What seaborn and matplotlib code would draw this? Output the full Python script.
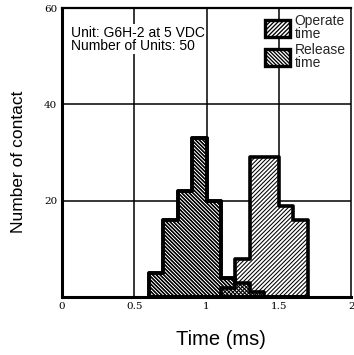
import numpy as np
import pandas as pd
import seaborn as sns
import matplotlib
matplotlib.use("Agg")
import matplotlib.pyplot as plt
from matplotlib.patches import Patch

# ---- data ----
bin_edges = [0.6, 0.7, 0.8, 0.9, 1.0, 1.1, 1.2, 1.3, 1.4, 1.5, 1.6, 1.7]
release_bins = [0.65, 0.75, 0.85, 0.95, 1.05, 1.15, 1.25, 1.35]
release_counts = [5, 16, 22, 33, 20, 4, 3, 1]
operate_bins = [1.15, 1.25, 1.35, 1.45, 1.55, 1.65]
operate_counts = [2, 8, 29, 29, 19, 16]
x_ticks = [0, 0.5, 1, 1.5, 2]
x_ticklabels = ["0", "0.5", "1", "1.5", "2"]
y_ticks = [20, 40, 60]
y_ticklabels = ["20", "40", "60"]
note_text = "Unit: G6H-2 at 5 VDC\nNumber of Units: 50"
legend_labels = ["Operate\ntime", "Release\ntime"]

release_df = pd.DataFrame({"time": release_bins, "count": release_counts})
operate_df = pd.DataFrame({"time": operate_bins, "count": operate_counts})

sns.set_theme(style="white")
plt.rcParams["font.family"] = ["Liberation Sans", "DejaVu Sans"]
plt.rcParams["hatch.color"] = "black"

fig = plt.figure(figsize=(3.54, 3.55), dpi=100)
ax = fig.add_axes([0.175, 0.163, 0.817, 0.814])

REL_HATCH = "\\" * 9
OPE_HATCH = "/" * 8
REL_HLW = 0.95
OPE_HLW = 0.75

def draw(df, hatch, hlw, face, z):
    plt.rcParams["hatch.linewidth"] = hlw
    n_before = len(ax.collections)
    sns.histplot(data=df, x="time", weights="count", bins=bin_edges,
                 element="step", fill=True, ax=ax, color=face, alpha=1,
                 edgecolor="black", linewidth=2.6, legend=False)
    for coll in ax.collections[n_before:]:
        coll.set_hatch(hatch)
        coll.set_facecolor(face)
        coll.set_edgecolor("black")
        coll.set_zorder(z)

draw(release_df, REL_HATCH, REL_HLW, "white", 2)
draw(operate_df, OPE_HATCH, OPE_HLW, "white", 3)
draw(release_df, REL_HATCH, REL_HLW, "none", 4)

ax.set_xlim(0, 2)
ax.set_ylim(0, 60)
ax.set_xticks(x_ticks)
ax.set_xticklabels(x_ticklabels, family="DejaVu Serif", fontsize=7.5)
ax.set_yticks(y_ticks)
ax.set_yticklabels(y_ticklabels, family="DejaVu Serif", fontsize=7.5)
ax.tick_params(axis="both", length=2, width=1, pad=1.5, colors="black")

for xv in [0.5, 1.0, 1.5]:
    ax.axvline(xv, color="black", lw=1.1, zorder=1)
for yv in [20, 40]:
    ax.axhline(yv, color="black", lw=1.1, zorder=1)

for side, lw in {"left": 2.2, "bottom": 2.2, "top": 1.6, "right": 1.1}.items():
    ax.spines[side].set_visible(True)
    ax.spines[side].set_color("black")
    ax.spines[side].set_linewidth(lw)

ax.set_xlabel("Time (ms)", fontsize=14.5, color="black")
ax.set_ylabel("Number of contact", fontsize=12.5, color="black")
ax.xaxis.set_label_coords(0.55, -0.115)
ax.yaxis.set_label_coords(-0.125, 0.47)

ax.text(0.03, 0.94, note_text, transform=ax.transAxes, fontsize=10,
        va="top", ha="left", linespacing=0.95, color="black", zorder=6,
        bbox=dict(facecolor="white", edgecolor="none", pad=1.0))

plt.rcParams["hatch.linewidth"] = OPE_HLW
h_op = Patch(facecolor="white", edgecolor="black", hatch=OPE_HATCH, linewidth=2.4)
plt.rcParams["hatch.linewidth"] = REL_HLW
h_rel = Patch(facecolor="white", edgecolor="black", hatch=REL_HATCH, linewidth=2.4)
leg = ax.legend([h_op, h_rel], legend_labels, loc="upper right", bbox_to_anchor=(1.0, 1.0),
                frameon=False, fontsize=10, handlelength=1.8, handleheight=1.5,
                handletextpad=0.35, labelspacing=0.2, borderaxespad=0.2,
                borderpad=0.2)
for t in leg.get_texts():
    t.set_linespacing(0.9)
leg.set_zorder(6)

fig.savefig("out.png", dpi=100)
